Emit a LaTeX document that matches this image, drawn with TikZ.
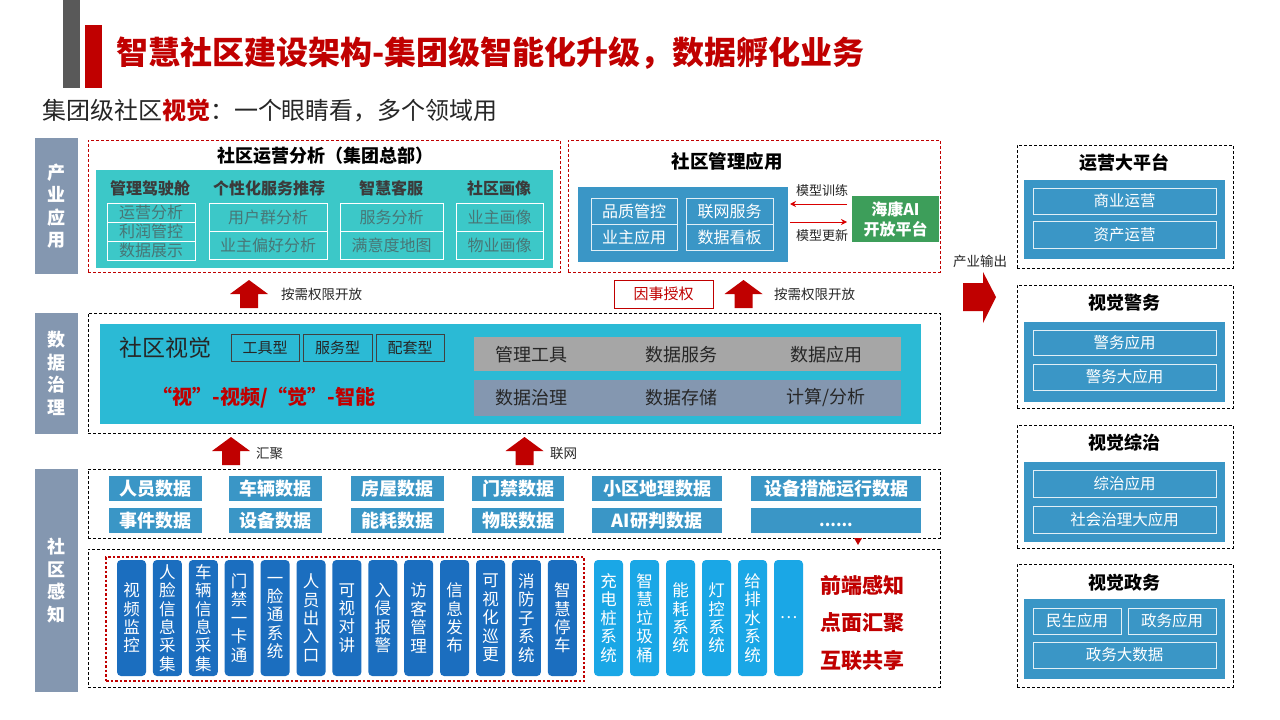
\documentclass[tikz,border=0pt]{standalone}
\usepackage{fontspec}
\setmainfont{Noto Sans CJK SC}
\usetikzlibrary{calc,arrows.meta}
\definecolor{tred}{HTML}{C00000}
\definecolor{barg}{HTML}{595959}
\definecolor{labg}{HTML}{8497B0}
\definecolor{teal1}{HTML}{3CC8C8}
\definecolor{cyan1}{HTML}{2BBAD5}
\definecolor{blue1}{HTML}{3A96C6}
\definecolor{green1}{HTML}{3D9E5A}
\definecolor{dblue}{HTML}{1B6EBF}
\definecolor{lblue}{HTML}{1AA7E6}
\definecolor{grayrow}{HTML}{A6A6A6}
\definecolor{subtxt}{HTML}{487676}
\definecolor{hdtxt}{HTML}{3B3B3B}
\definecolor{txtk}{HTML}{262626}
\newcommand\myfs[2]{\fontsize{#1pt}{#2pt}\selectfont}
\newcommand\RB[7]{\node[anchor=north west, minimum width={#4-#2}, minimum height={#5-#3}, align=center, #6] (#1) at (#2,#3) {#7};}
\tikzset{
  dashbox/.style={draw=black, line width=0.8pt, dash pattern=on 3pt off 2pt},
  rdashbox/.style={draw=tred, line width=0.8pt, dash pattern=on 3pt off 2pt},
  lab/.style={fill=labg, text=white, font=\myfs{18}{22.5}\bfseries},
  hdr/.style={text=hdtxt, font=\myfs{16}{18}\bfseries},
  subcell/.style={draw=white, line width=1pt, text=subtxt, font=\myfs{16}{17}},
  cell/.style={draw=white!85!blue1, line width=0.8pt, text=white, font=\myfs{15.5}{17}},
  dbox/.style={fill=blue1, text=white, font=\myfs{18}{20}\bfseries},
  pill/.style={rounded corners=4pt, minimum width=29pt, minimum height=116pt, text=white, align=center, font=\myfs{16.5}{18.4}},
  small/.style={text=txtk, font=\myfs{13.5}{15}},
  ptitle/.style={text=black, font=\myfs{18}{20}\bfseries},
  rarrow/.style={draw=red!85!black, line width=1pt, -{Stealth[length=6pt,width=6pt]}},
  uparrow/.pic={\fill[tred] (-9,14) -- (-9,0) -- (-19,0) -- (0,-14) -- (19,0) -- (9,0) -- (9,14) -- cycle;}
}
\begin{document}
\begin{tikzpicture}[x=1pt,y=-1pt, every node/.style={inner sep=0pt, outer sep=0pt}]
\useasboundingbox (0,0) rectangle (1280,720);
\fill[white] (0,0) rectangle (1280,720);

% title bars
\fill[barg] (63,0) rectangle (80,88);
\fill[tred] (85,25) rectangle (102,88);
\node[anchor=west, font=\myfs{32}{36}\bfseries, text=tred] (title) at (116,53) {智慧社区建设架构-集团级智能化升级，数据孵化业务};
\node[anchor=west, font=\myfs{24}{28}, text=txtk] (subtitle) at (42,111) {集团级社区\textcolor{tred}{\bfseries 视觉}：一个眼睛看，多个领域用};

% left labels
\RB{L1}{35}{138}{78}{274}{lab}{产\\业\\应\\用}
\RB{L2}{35}{313}{78}{434}{lab}{数\\据\\治\\理}
\RB{L3}{35}{469}{78}{692}{lab}{社\\区\\感\\知}

% ===== 社区运营分析
\RB{opsouter}{88}{140}{560}{272}{rdashbox}{}
\node[font=\myfs{18}{20}\bfseries, text=black] (opstitle) at (325,156) {社区运营分析（集团总部）};
\RB{opsbox}{96}{170}{553}{268}{fill=teal1}{}
\node[hdr] (h1) at (150,188) {管理驾驶舱};
\node[hdr] (h2) at (269,188) {个性化服务推荐};
\node[hdr] (h3) at (391,188) {智慧客服};
\node[hdr] (h4) at (499,188) {社区画像};
\RB{c11}{107}{203}{195}{222}{subcell}{运营分析}
\RB{c12}{107}{222}{195}{241}{subcell}{利润管控}
\RB{c13}{107}{241}{195}{260}{subcell}{数据展示}
\RB{c21}{209}{203}{327}{231}{subcell}{用户群分析}
\RB{c22}{209}{231}{327}{259}{subcell}{业主偏好分析}
\RB{c31}{340}{203}{443}{231}{subcell}{服务分析}
\RB{c32}{340}{231}{443}{259}{subcell}{满意度地图}
\RB{c41}{456}{203}{543}{231}{subcell}{业主画像}
\RB{c42}{456}{231}{543}{259}{subcell}{物业画像}

% ===== 社区管理应用
\RB{mgmtouter}{568}{140}{940}{272}{rdashbox}{}
\node[font=\myfs{18.5}{20}\bfseries, text=black] (mgmttitle) at (727,161) {社区管理应用};
\RB{mgmtbox}{578}{187}{788}{262}{fill=blue1}{}
\RB{m1}{591}{198}{677}{224}{cell, font=\myfs{16}{18}}{品质管控}
\RB{m2}{686}{198}{773}{224}{cell, font=\myfs{16}{18}}{联网服务}
\RB{m3}{591}{224}{677}{250}{cell, font=\myfs{16}{18}}{业主应用}
\RB{m4}{686}{224}{773}{250}{cell, font=\myfs{16}{18}}{数据看板}
\RB{ai}{852}{196}{939}{242}{fill=green1, text=white, font=\myfs{16}{20}\bfseries}{海康AI\\开放平台}
\draw[rarrow] ($(ai.west)+(-5,-15)$) -- ($(mgmtbox.east |- ai.west)+(2,-15)$);
\draw[rarrow] ($(mgmtbox.east |- ai.west)+(2,3)$) -- ($(ai.west)+(-5,3)$);
\node[font=\myfs{13}{15}, text=txtk] (train) at (822,191) {模型训练};
\node[font=\myfs{13}{15}, text=txtk] (update) at (822,236) {模型更新};

% ===== arrows between layers
\pic at (249,294) {uparrow};
\node[small, anchor=west] (open1) at (281,294) {按需权限开放};
\RB{auth}{614}{280}{713}{308}{draw=tred, line width=0.8pt, text=tred, font=\myfs{15}{17}}{因事授权}
\pic at (743.5,294) {uparrow};
\node[small, anchor=west] (open2) at (774,294) {按需权限开放};

% ===== 数据治理
\RB{govouter}{88}{313}{940}{433}{dashbox}{}
\RB{govbox}{100}{324}{921}{424}{fill=cyan1}{}
\node[font=\myfs{23}{26}, text=txtk] (vision) at (165,348) {社区视觉};
\RB{t1}{231}{334}{299}{361}{draw=black!75, line width=0.8pt, text=txtk, font=\myfs{15}{17}}{工具型}
\RB{t2}{303}{334}{372}{361}{draw=black!75, line width=0.8pt, text=txtk, font=\myfs{15}{17}}{服务型}
\RB{t3}{376}{334}{444}{361}{draw=black!75, line width=0.8pt, text=txtk, font=\myfs{15}{17}}{配套型}
\node[font=\myfs{20}{24}\bfseries, text=tred] (slogan) at (264,398) {“视”-视频/“觉”-智能};
\RB{g1}{474}{337}{901}{371}{fill=grayrow}{}
\RB{g2}{474}{380}{901}{416}{fill=labg}{}
\foreach \t/\xx/\yy [count=\i] in {管理工具/531/355, 数据服务/681/355, 数据应用/826/355, 数据治理/531/398, 数据存储/681/398, 计算{/}分析/826/398}
  \node[font=\myfs{18}{20}, text=txtk] (gt\i) at (\xx,\yy) {\t};

% arrows to data governance
\pic at (231,451) {uparrow};
\node[small, anchor=west] (agg) at (256,454) {汇聚};
\pic at (524.5,451) {uparrow};
\node[small, anchor=west] (net) at (550,454) {联网};

% ===== data row
\RB{dataouter}{88}{469}{940}{538}{dashbox}{}
\RB{d11}{109}{476}{202}{501}{dbox}{人员数据}
\RB{d12}{109}{508}{202}{533}{dbox}{事件数据}
\RB{d21}{229}{476}{322}{501}{dbox}{车辆数据}
\RB{d22}{229}{508}{322}{533}{dbox}{设备数据}
\RB{d31}{351}{476}{444}{501}{dbox}{房屋数据}
\RB{d32}{351}{508}{444}{533}{dbox}{能耗数据}
\RB{d41}{472}{476}{564}{501}{dbox}{门禁数据}
\RB{d42}{472}{508}{564}{533}{dbox}{物联数据}
\RB{d51}{592}{476}{722}{501}{dbox}{小区地理数据}
\RB{d52}{592}{508}{722}{533}{dbox}{AI研判数据}
\RB{d61}{751}{476}{921}{501}{dbox}{设备措施运行数据}
\RB{d62}{751}{508}{921}{533}{dbox, font=\myfs{16}{18}\bfseries}{\raisebox{-6pt}[0pt][0pt]{......}}
\fill[tred] (854,538) -- (862,538) -- (858,545) -- cycle;

% ===== sensing
\RB{senseouter}{88}{549}{940}{687}{dashbox}{}
\RB{redgroup}{106}{557}{584}{681}{draw=tred, line width=2.4pt, dash pattern=on 2.5pt off 2pt}{}
\foreach \t [count=\i from 0] in {{视\\频\\监\\控},{人\\脸\\信\\息\\采\\集},{车\\辆\\信\\息\\采\\集},{门\\禁\\一\\卡\\通},{一\\脸\\通\\系\\统},{人\\员\\出\\入\\口},{可\\视\\对\\讲},{入\\侵\\报\\警},{访\\客\\管\\理},{信\\息\\发\\布},{可\\视\\化\\巡\\更},{消\\防\\子\\系\\统},{智\\慧\\停\\车}}
  \node[pill, fill=dblue] (p\i) at ({131.5+35.9*\i},618) {\t};
\foreach \t [count=\i from 0] in {{充\\电\\桩\\系\\统},{智\\慧\\垃\\圾\\桶},{能\\耗\\系\\统},{灯\\控\\系\\统},{给\\排\\水\\系\\统},{…}}
  \node[pill, fill=lblue] (q\i) at ({608.5+36*\i},618) {\t};
\node[font=\myfs{21}{24}\bfseries, text=tred] (s1) at (862,585) {前端感知};
\node[font=\myfs{21}{24}\bfseries, text=tred] (s2) at (862,623) {点面汇聚};
\node[font=\myfs{21}{24}\bfseries, text=tred] (s3) at (862,661) {互联共享};

% ===== output arrow
\node[small] (out) at (980,261) {产业输出};
\fill[tred] (963,283) -- (983,283) -- (983,272) -- (996,297) -- (983,323) -- (983,311) -- (963,311) -- cycle;

% ===== right panels
\RB{r1}{1017}{145}{1233}{268}{dashbox}{}
\node[ptitle] (r1t) at (1124,163) {运营大平台};
\RB{r1b}{1024}{180}{1225}{259}{fill=blue1}{}
\RB{r1c1}{1033}{188}{1216}{214}{cell}{商业运营}
\RB{r1c2}{1033}{221}{1216}{248}{cell}{资产运营}

\RB{r2}{1017}{285}{1233}{408}{dashbox}{}
\node[ptitle] (r2t) at (1124,303) {视觉警务};
\RB{r2b}{1024}{322}{1225}{402}{fill=blue1}{}
\RB{r2c1}{1033}{330}{1216}{355}{cell}{警务应用}
\RB{r2c2}{1033}{364}{1216}{390}{cell}{警务大应用}

\RB{r3}{1017}{425}{1233}{548}{dashbox}{}
\node[ptitle] (r3t) at (1124,443) {视觉综治};
\RB{r3b}{1024}{462}{1225}{542}{fill=blue1}{}
\RB{r3c1}{1033}{470}{1216}{497}{cell}{综治应用}
\RB{r3c2}{1033}{506}{1216}{533}{cell}{社会治理大应用}

\RB{r4}{1017}{564}{1233}{687}{dashbox}{}
\node[ptitle] (r4t) at (1124,583) {视觉政务};
\RB{r4b}{1024}{599}{1225}{679}{fill=blue1}{}
\RB{r4c1}{1033}{608}{1121}{634}{cell}{民生应用}
\RB{r4c2}{1128}{608}{1216}{634}{cell}{政务应用}
\RB{r4c3}{1033}{642}{1216}{668}{cell}{政务大数据}
\end{tikzpicture}
\end{document}
